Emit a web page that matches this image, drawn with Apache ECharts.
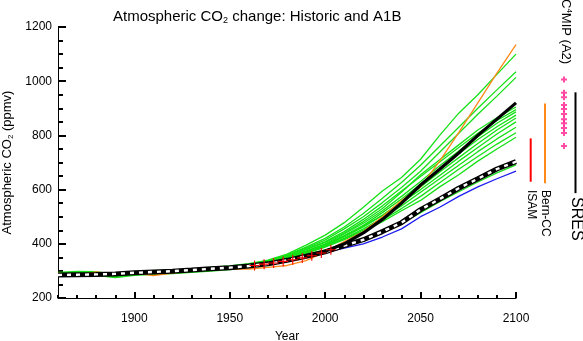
<!DOCTYPE html>
<html>
<head>
<meta charset="utf-8">
<script src="https://cdn.jsdelivr.net/npm/echarts@6/dist/echarts.min.js"></script>
<style>
html, body { margin: 0; padding: 0; background: #fff; }
#main { width: 583px; height: 341px; }
</style>
</head>
<body>
<div id="main"></div>
<script>
// years
var decadeYears = [1860, 1870, 1880, 1890, 1900, 1910, 1920, 1930, 1940, 1950, 1960, 1970,
    1980, 1990, 2000, 2010, 2020, 2030, 2040, 2050, 2060, 2070, 2080, 2090, 2100];
var histYears = [1860, 1870, 1880, 1890, 1900, 1910, 1920, 1930, 1940, 1950, 1960, 1970];
var modelYears = [1960, 1970, 1980, 1990, 2000, 2010, 2020, 2030, 2040, 2050, 2060, 2070, 2080, 2090, 2100];
var blackYears = [1990, 2000, 2010, 2020, 2030, 2040, 2050, 2060, 2070, 2080, 2090, 2100];
var blueYears = [2000, 2010, 2020, 2030, 2040, 2050, 2060, 2070, 2080, 2090, 2100];
var obsYears = [1963, 1968, 1973, 1978, 1983, 1988, 1993, 1998, 2003];

// tick labels
var xMajorTicks = [1900, 1950, 2000, 2050, 2100];

// historic green band (overlapping models)
var greenHist = [288, 291, 290, 282, 290, 294, 297, 301, 306, 312, 320, 332];

// green model runs
var g01 = [324, 340, 362, 395, 432, 478, 535, 595, 645, 712, 800, 882, 950, 1025, 1100];
var g02 = [322, 338, 358, 388, 420, 462, 512, 568, 626, 690, 760, 830, 900, 968, 1035];
var g03 = [323, 337, 356, 384, 414, 455, 500, 552, 608, 668, 738, 808, 878, 945, 1014];
var g04 = [321, 335, 352, 378, 405, 440, 482, 530, 590, 655, 710, 765, 820, 865, 905];
var g05 = [322, 336, 354, 380, 408, 445, 490, 540, 595, 648, 702, 755, 808, 855, 895];
var g06 = [320, 334, 350, 374, 400, 436, 476, 522, 575, 630, 688, 742, 795, 845, 887];
var g07 = [321, 333, 349, 372, 398, 430, 468, 515, 565, 620, 678, 732, 785, 832, 875];
var g08 = [320, 332, 348, 370, 395, 425, 462, 505, 555, 610, 665, 718, 770, 820, 864];
var g09 = [320, 333, 350, 372, 396, 428, 465, 505, 552, 600, 652, 705, 755, 805, 850];
var g10 = [319, 331, 347, 368, 392, 420, 455, 495, 540, 590, 640, 690, 740, 787, 830];
var g11 = [319, 331, 346, 366, 390, 418, 450, 488, 530, 575, 625, 675, 722, 768, 810];
var g12 = [318, 330, 345, 365, 388, 415, 446, 482, 522, 560, 610, 655, 705, 750, 793];
var g13 = [318, 329, 343, 360, 378, 396, 418, 442, 475, 515, 555, 592, 628, 662, 691];

var orangeRun = [292, 284, 296, 286, 292, 283, 292, 300, 305, 308, 307, 313,
    320, 338, 370, 408, 445, 500, 560, 610, 705, 810, 920, 1030, 1135];
var dashedRun = [285, 286, 287, 289, 293, 296, 299, 303, 308, 312, 318, 326,
    339, 354, 370, 393, 415, 445, 478, 526, 565, 605, 640, 676, 703];
var blackRun = [352, 372, 400, 440, 490, 550, 617, 675, 735, 800, 860, 920];
var blueRun = [368, 384, 400, 425, 455, 500, 535, 575, 610, 640, 668];
var obsCO2 = [320, 325, 329, 335, 341, 348, 356, 366, 378];

// 2100 ranges on the right
var isamRange = [629, 789];
var bernRange = [623, 918];
var sresRange = [587, 959];
var c4mipA2 = [1006, 957, 941, 912, 897, 879, 860, 845, 827, 809, 761];

function pairs(xs, ys) {
    return ys.map(function (v, i) { return [xs[i], v]; });
}

var font = 'Liberation Sans';
var green = '#16e016';
var plusPath = 'path://M4,0L5,0L5,9L4,9Z M0,4L9,4L9,5L0,5Z';
var fatPlus = 'path://M2,0h2v2h2v2h-2v2h-2v-2h-2v-2h2z';

// right side column positions (px inside the small grid)
var colIsam = 10.7, colBern = 25, colC4 = 44, colSres = 55.5;

var series = [];

series.push({
    type: 'line', xAxisIndex: 0, yAxisIndex: 0,
    data: pairs(histYears, greenHist),
    showSymbol: false,
    lineStyle: { color: green, width: 5 }
});

[g01, g02, g03, g04, g05, g06, g07, g08, g09, g10, g11, g12, g13].forEach(function (run) {
    series.push({
        type: 'line', xAxisIndex: 0, yAxisIndex: 0,
        data: pairs(modelYears, run),
        showSymbol: false,
        lineStyle: { color: green, width: 1.3 }
    });
});

series.push({
    type: 'line', xAxisIndex: 0, yAxisIndex: 0,
    data: pairs(blueYears, blueRun),
    showSymbol: false,
    lineStyle: { color: '#1c1cf0', width: 1.3 }
});
series.push({
    type: 'line', xAxisIndex: 0, yAxisIndex: 0,
    data: pairs(decadeYears, orangeRun),
    showSymbol: false,
    lineStyle: { color: '#ff8a1a', width: 1.3 }
});
// dashed reference line: black body with white gaps
series.push({
    type: 'line', xAxisIndex: 0, yAxisIndex: 0,
    data: pairs(decadeYears, dashedRun),
    showSymbol: false,
    lineStyle: { color: '#000', width: 5 }
});
series.push({
    type: 'line', xAxisIndex: 0, yAxisIndex: 0,
    data: pairs(decadeYears, dashedRun),
    showSymbol: false,
    lineStyle: { color: '#fff', width: 2.4, type: [4, 5] }
});
series.push({
    type: 'line', xAxisIndex: 0, yAxisIndex: 0,
    data: pairs(blackYears, blackRun),
    showSymbol: false,
    lineStyle: { color: '#000', width: 3.2 }
});
series.push({
    type: 'scatter', xAxisIndex: 0, yAxisIndex: 0, z: 10,
    data: pairs(obsYears, obsCO2),
    symbol: plusPath, symbolSize: 10,
    itemStyle: { color: '#ff0000', opacity: 1 }
});

// right side ranges
series.push({
    type: 'line', xAxisIndex: 2, yAxisIndex: 1,
    data: [[colIsam, isamRange[0]], [colIsam, isamRange[1]]],
    showSymbol: false, lineStyle: { color: '#ff0000', width: 2 }
});
series.push({
    type: 'line', xAxisIndex: 2, yAxisIndex: 1,
    data: [[colBern, bernRange[0]], [colBern, bernRange[1]]],
    showSymbol: false, lineStyle: { color: '#ff8a1a', width: 2 }
});
series.push({
    type: 'line', xAxisIndex: 2, yAxisIndex: 1,
    data: [[colSres, sresRange[0]], [colSres, sresRange[1]]],
    showSymbol: false, lineStyle: { color: '#000', width: 2 }
});
series.push({
    type: 'scatter', xAxisIndex: 2, yAxisIndex: 1,
    data: c4mipA2.map(function (v) { return [colC4, v]; }),
    symbol: fatPlus, symbolSize: 6,
    itemStyle: { color: '#ff1f8f' }
});

var chart = echarts.init(document.getElementById('main'));
chart.setOption({
    animation: false,
    backgroundColor: '#fff',
    textStyle: { fontFamily: font },
    title: {
        text: '{a|Atmospheric CO}{s|2}{a| change: Historic and A1B}',
        left: 108, top: 3,
        textStyle: {
            fontWeight: 'normal',
            rich: {
                a: { fontSize: 15, fontFamily: font, color: '#000', fontWeight: 'normal' },
                s: { fontSize: 9, fontFamily: font, color: '#000', fontWeight: 'normal', padding: [8, 0, 0, 0] }
            }
        }
    },
    grid: [
        { left: 58, right: 67, top: 27, bottom: 43, outerBoundsMode: 'none', containLabel: false },
        { left: 520, right: 0, top: 27, bottom: 43, outerBoundsMode: 'none', containLabel: false }
    ],
    xAxis: [
        {
            type: 'value', gridIndex: 0, min: 1860, max: 2100, interval: 10,
            name: 'Year', nameLocation: 'middle', nameGap: 33,
            nameTextStyle: { fontSize: 12, color: '#000', fontFamily: font },
            axisLine: { lineStyle: { color: '#000', width: 1 } },
            axisTick: { show: true, inside: true, length: 3, lineStyle: { color: '#000', width: 2 } },
            axisLabel: { show: false },
            splitLine: { show: false }
        },
        {
            type: 'value', gridIndex: 0, min: 1860, max: 2100, position: 'bottom',
            axisLine: { show: false },
            axisTick: { show: true, inside: true, length: 6, customValues: xMajorTicks,
                lineStyle: { color: '#000', width: 2 } },
            axisLabel: { customValues: xMajorTicks, color: '#000', fontSize: 12, margin: 15, fontFamily: font,
                formatter: function (v) { return String(v); } },
            splitLine: { show: false }
        },
        {
            type: 'value', gridIndex: 1, min: 0, max: 63, show: false
        }
    ],
    yAxis: [
        {
            type: 'value', gridIndex: 0, min: 200, max: 1200, interval: 200,
            name: '{a|Atmospheric CO}{s|2}{a| (ppmv)}',
            nameLocation: 'middle', nameGap: 43, nameRotate: 90,
            nameTextStyle: {
                rich: {
                    a: { fontSize: 13, fontFamily: font, color: '#000' },
                    s: { fontSize: 8, fontFamily: font, color: '#000', padding: [6, 0, 0, 0] }
                }
            },
            axisLine: { show: true, lineStyle: { color: '#000', width: 1 } },
            axisTick: { show: true, inside: true, length: 8, lineStyle: { color: '#000', width: 2 } },
            minorTick: { show: true, splitNumber: 4, length: 5, lineStyle: { color: '#000', width: 2 } },
            axisLabel: { color: '#000', fontSize: 12, margin: 6, fontFamily: font,
                formatter: function (v) { return String(v); } },
            splitLine: { show: false }
        },
        {
            type: 'value', gridIndex: 1, min: 200, max: 1200, show: false
        }
    ],
    graphic: [
        {
            type: 'text', x: 566, y: -1, rotation: -Math.PI / 2,
            style: {
                text: '{a|C}{s|4}{a|MIP (A2)}',
                align: 'left', verticalAlign: 'middle',
                rich: {
                    a: { fontSize: 13, fontFamily: font, fill: '#000' },
                    s: { fontSize: 8, fontFamily: font, fill: '#000', padding: [0, 0, 7, 0] }
                }
            }
        },
        {
            type: 'text', x: 576, y: 197, rotation: -Math.PI / 2,
            style: { text: 'SRES', font: '16px ' + font, fill: '#000', align: 'left', verticalAlign: 'middle' }
        },
        {
            type: 'text', x: 545.5, y: 190, rotation: -Math.PI / 2,
            style: { text: 'Bern-CC', font: '12px ' + font, fill: '#000', align: 'left', verticalAlign: 'middle' }
        },
        {
            type: 'text', x: 531.5, y: 190, rotation: -Math.PI / 2,
            style: { text: 'ISAM', font: '12px ' + font, fill: '#000', align: 'left', verticalAlign: 'middle' }
        }
    ],
    series: series
});
</script>
</body>
</html>
